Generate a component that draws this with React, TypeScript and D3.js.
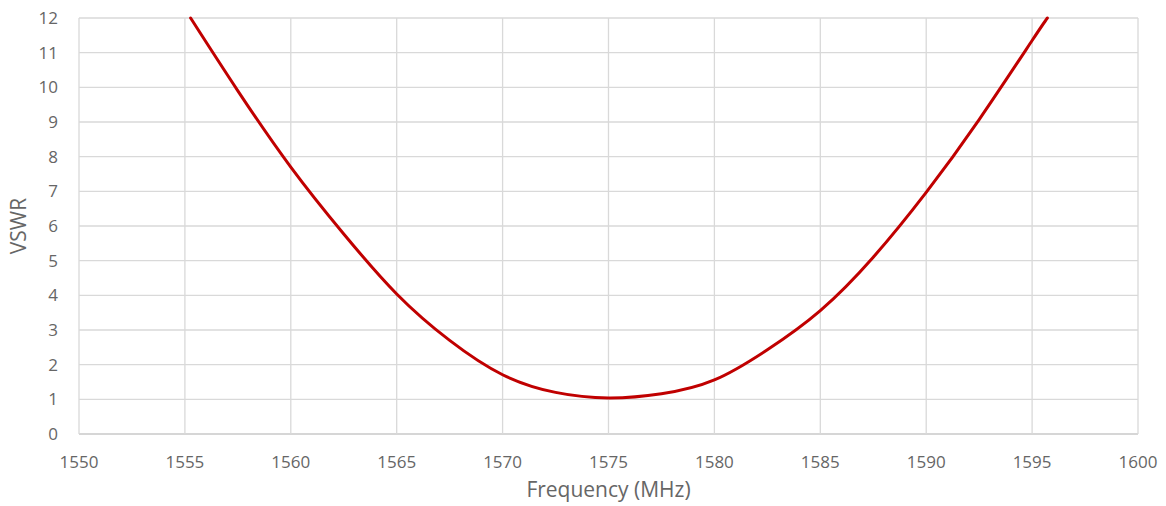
import React, { useEffect, useRef } from "react";
import * as d3 from "d3";

// VSWR
const freqs = [1555.27, 1557.5, 1560, 1562.5, 1565, 1567.5, 1570, 1572.5, 1575, 1577.5, 1580, 1582.5, 1585, 1587.5, 1590, 1592.5, 1595, 1595.72];
const vswr = [12, 9.9, 7.7, 5.77, 4.04, 2.7, 1.71, 1.2, 1.04, 1.16, 1.56, 2.43, 3.56, 5.1, 6.97, 9.07, 11.35, 12];
const xTicks = [1550, 1555, 1560, 1565, 1570, 1575, 1580, 1585, 1590, 1595, 1600];
const yTicks = [0, 1, 2, 3, 4, 5, 6, 7, 8, 9, 10, 11, 12];

const W = 1166, H = 506;
const margin = { top: 18, right: 28, bottom: 72, left: 79 };
const font = "'Open Sans', 'Noto Sans', sans-serif";

export default function App() {
  const ref = useRef<SVGSVGElement>(null);

  useEffect(() => {
    const svg = d3.select(ref.current);
    svg.selectAll("*").remove();
    const width = W - margin.left - margin.right,
        height = H - margin.top - margin.bottom;
    const g = svg.append("g").attr("transform", "translate(" + margin.left + "," + margin.top + ")");

    const x = d3.scaleLinear().domain([1550, 1600]).range([0, width]);
    const y = d3.scaleLinear().domain([0, 12]).range([height, 0]);

    // grid
    g.selectAll(".hg").data(yTicks).enter().append("line")
      .attr("x1", 0).attr("x2", width)
      .attr("y1", d => y(d)).attr("y2", d => y(d))
      .attr("stroke", d => d === 0 ? "#c8c8c8" : "#d9d9d9").attr("stroke-width", 1.3);
    g.selectAll(".vg").data(xTicks).enter().append("line")
      .attr("x1", d => x(d)).attr("x2", d => x(d))
      .attr("y1", 0).attr("y2", height)
      .attr("stroke", "#d9d9d9").attr("stroke-width", 1.3);

    // tick labels
    g.selectAll(".yl").data(yTicks).enter().append("text")
      .attr("x", -21).attr("y", d => y(d)).attr("dy", "0.35em")
      .attr("text-anchor", "end")
      .attr("font-family", font).attr("font-size", 17).attr("fill", "#666666")
      .text(d => d);
    g.selectAll(".xl").data(xTicks).enter().append("text")
      .attr("x", d => x(d)).attr("y", height + 28).attr("dy", "0.35em")
      .attr("text-anchor", "middle")
      .attr("font-family", font).attr("font-size", 17).attr("fill", "#666666")
      .text(d => d);

    // axis titles
    svg.append("text")
      .attr("x", margin.left + width / 2).attr("y", 490).attr("dy", "0.35em")
      .attr("text-anchor", "middle")
      .attr("font-family", font).attr("font-size", 21).attr("fill", "#666666")
      .text("Frequency (MHz)");
    svg.append("text")
      .attr("transform", "translate(19,226) rotate(-90)")
      .attr("dy", "0.35em")
      .attr("text-anchor", "middle")
      .attr("font-family", font).attr("font-size", 21).attr("fill", "#666666")
      .text("VSWR");

    const line = d3.line<number>()
      .x((d, i) => x(freqs[i]))
      .y(d => y(d))
      .curve(d3.curveNatural);

    g.append("path")
      .datum(vswr)
      .attr("fill", "none")
      .attr("stroke", "#c00000")
      .attr("stroke-width", 3)
      .attr("stroke-linejoin", "round")
      .attr("stroke-linecap", "round")
      .attr("d", line);
  }, []);

  return (
    <svg ref={ref} width={W} height={H} style={{ position: "absolute", left: 0, top: 0, background: "#fff" }} />
  );
}
